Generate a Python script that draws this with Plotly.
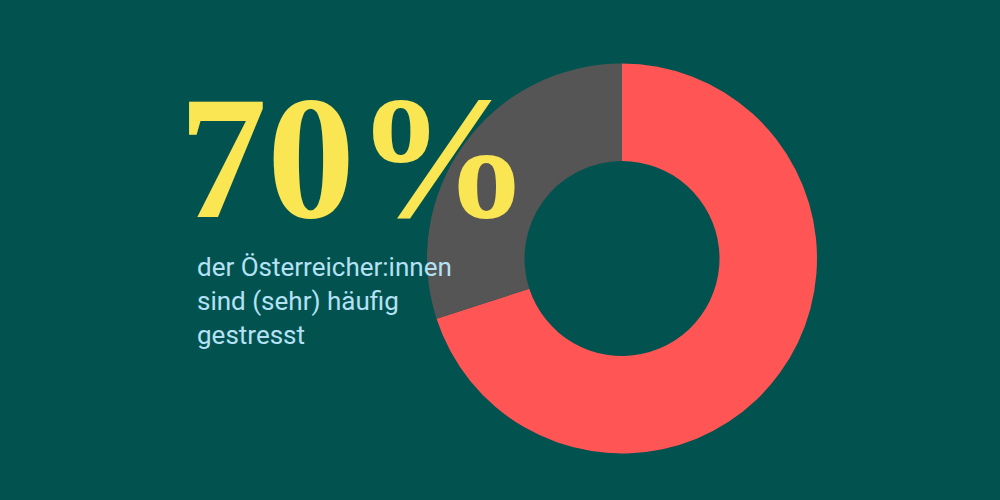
import plotly.graph_objects as go

# share of Austrians who are (very) often stressed
labels = ['(sehr) häufig gestresst', 'andere']
values = [70, 30]
colors = ['#FF5555', '#555555']

headline = '70%'
subline = 'der Österreicher:innen<br>sind (sehr) häufig<br>gestresst'

bg = '#02534F'

fig = go.Figure()

fig.add_trace(go.Pie(
    labels=labels,
    values=values,
    hole=0.5,
    sort=False,
    direction='clockwise',
    rotation=0,
    marker=dict(colors=colors, line=dict(width=0)),
    textinfo='none',
    hoverinfo='label+percent',
    showlegend=False,
    domain=dict(x=[0.427, 0.817], y=[0.093, 0.873]),
))

# big number, sits on top of the donut
fig.add_annotation(
    x=0.177, y=0.685, xref='paper', yref='paper',
    xanchor='left', yanchor='middle',
    text='<b>' + headline + '</b>',
    showarrow=False,
    font=dict(family='Liberation Serif, serif', size=176, color='#FAE552'),
)

fig.add_annotation(
    x=0.195, y=0.398, xref='paper', yref='paper',
    xanchor='left', yanchor='middle', align='left',
    text=subline,
    showarrow=False,
    font=dict(family='Roboto, sans-serif', size=26, color='#B5E1F5'),
)

fig.update_layout(
    width=1000,
    height=500,
    margin=dict(l=0, r=0, t=0, b=0),
    paper_bgcolor=bg,
    plot_bgcolor=bg,
)

# no page margin so the figure fills the window
fig.write_html("out.html", config={'displayModeBar': False},
               post_script="document.body.style.margin='0';")
